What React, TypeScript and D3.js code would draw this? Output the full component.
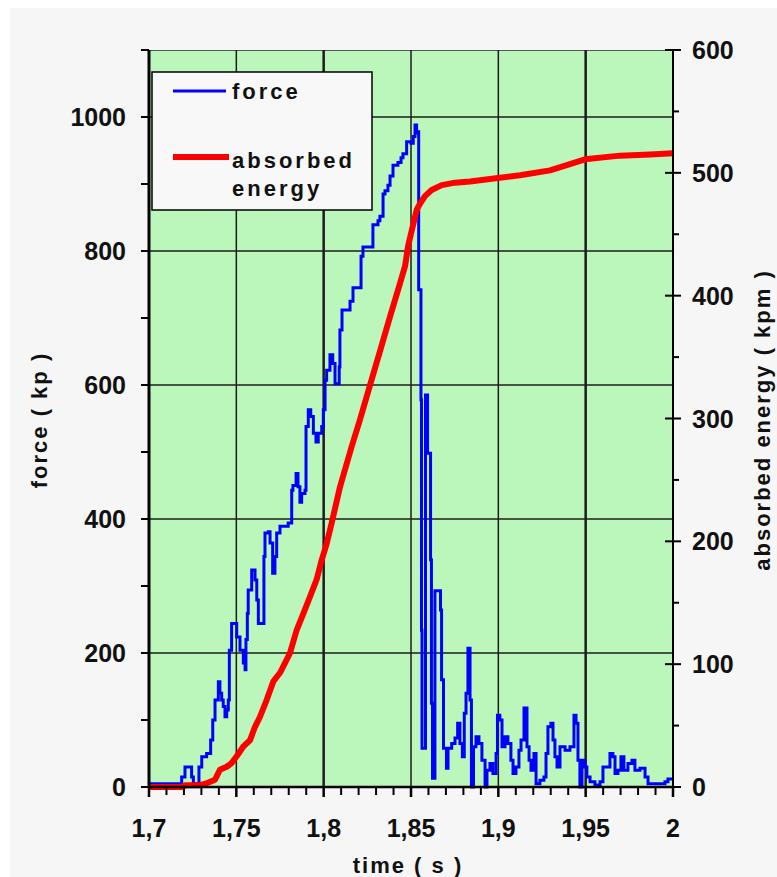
import React, { useEffect, useRef } from "react";
import * as d3 from "d3";

// force trace, [time (s), force (kp)]
const forceSeries: [number, number][] = [
  [1.7, 5], [1.7109, 5], [1.7187, 15], [1.7206, 30], [1.7235, 30], [1.7244, 15], [1.7254, 5],
  [1.7282, 5], [1.7286, 30], [1.7302, 45], [1.733, 50], [1.7349, 50], [1.7353, 70], [1.7365, 100],
  [1.7378, 130], [1.7397, 157], [1.7406, 140], [1.7416, 130], [1.7425, 120], [1.7435, 105],
  [1.7445, 115], [1.7454, 130], [1.746, 204], [1.7473, 244], [1.7492, 244], [1.7502, 224],
  [1.7521, 204], [1.754, 185], [1.755, 175], [1.7555, 220], [1.7563, 259], [1.7568, 294],
  [1.7588, 324], [1.7607, 309], [1.7617, 279], [1.7626, 244], [1.7654, 244], [1.7658, 344],
  [1.7664, 379], [1.7683, 381], [1.7693, 364], [1.7708, 319], [1.7721, 344], [1.7731, 379],
  [1.775, 389], [1.7788, 389], [1.7797, 394], [1.7817, 443], [1.7824, 450], [1.7842, 468],
  [1.7853, 448], [1.7864, 425], [1.7874, 438], [1.7893, 443], [1.7899, 538], [1.7912, 563],
  [1.7926, 553], [1.7941, 528], [1.7956, 515], [1.7969, 528], [1.7989, 538], [1.7998, 563],
  [1.8008, 607], [1.8017, 622], [1.8036, 645], [1.8052, 632], [1.8065, 602], [1.8078, 602],
  [1.8089, 627], [1.8093, 682], [1.8105, 712], [1.8139, 712], [1.8151, 725], [1.8168, 745],
  [1.8208, 745], [1.8214, 792], [1.8225, 806], [1.8254, 806], [1.8282, 839], [1.8311, 845],
  [1.8322, 852], [1.834, 885], [1.8351, 890], [1.8368, 898], [1.838, 912], [1.8397, 928],
  [1.8425, 932], [1.8443, 939], [1.8454, 945], [1.8475, 963], [1.85, 961], [1.8513, 971],
  [1.8523, 988], [1.8532, 976], [1.8542, 978], [1.8544, 742], [1.8552, 742], [1.8557, 578],
  [1.856, 234], [1.8563, 58], [1.8577, 58], [1.8583, 585], [1.8589, 585], [1.8595, 498],
  [1.8609, 498], [1.8612, 339], [1.8617, 125], [1.8623, 13], [1.8634, 13], [1.8637, 293],
  [1.8663, 293], [1.8669, 264], [1.8675, 160], [1.8686, 58], [1.8703, 28], [1.8712, 58],
  [1.8733, 65], [1.8752, 73], [1.8767, 95], [1.878, 65], [1.8794, 45], [1.8805, 110],
  [1.8815, 140], [1.8826, 207], [1.8838, 130], [1.8846, 0], [1.8852, 0], [1.8858, 60],
  [1.8872, 75], [1.8889, 65], [1.8906, 40], [1.8924, 0], [1.8935, 25], [1.8952, 35],
  [1.8969, 20], [1.8987, 50], [1.8995, 107], [1.9009, 100], [1.9021, 60], [1.9038, 75],
  [1.9055, 65], [1.9072, 40], [1.9084, 20], [1.9101, 30], [1.9118, 55], [1.913, 70],
  [1.9147, 118], [1.9164, 60], [1.9176, 40], [1.9187, 25], [1.9204, 50], [1.9216, 5],
  [1.9238, 10], [1.9261, 15], [1.9273, 50], [1.9284, 90], [1.9301, 95], [1.9313, 70],
  [1.9324, 45], [1.9336, 30], [1.9353, 60], [1.9382, 55], [1.941, 60], [1.9433, 107],
  [1.9445, 95], [1.9456, 40], [1.9467, 0], [1.9479, 40], [1.9496, 30], [1.9507, 15],
  [1.9525, 8], [1.9553, 3], [1.9582, 8], [1.9599, 30], [1.9622, 30], [1.9639, 50],
  [1.9656, 45], [1.9668, 20], [1.9685, 25], [1.9702, 45], [1.9719, 25], [1.9742, 35],
  [1.9765, 40], [1.9782, 25], [1.9811, 28], [1.984, 15], [1.9857, 5], [1.9897, 5],
  [1.9954, 8], [1.9971, 12], [2.0, 12],
];

// absorbed energy, [time (s), energy (kpm)]
const energySeries: [number, number][] = [
  [1.7, 0], [1.7195, 0], [1.7206, 1.5], [1.7292, 1.5], [1.733, 3], [1.7378, 6], [1.7406, 14],
  [1.7445, 16.5], [1.7473, 19.5], [1.7502, 25], [1.754, 33], [1.7578, 38], [1.7607, 49],
  [1.7635, 57], [1.7674, 71], [1.7712, 86], [1.775, 93], [1.7779, 101], [1.7807, 109],
  [1.7846, 128], [1.7883, 141], [1.7922, 155], [1.796, 169], [1.7989, 185], [1.8017, 198],
  [1.8046, 215], [1.8093, 244], [1.816, 277], [1.8208, 299], [1.8265, 327], [1.8323, 355],
  [1.838, 383], [1.8437, 410], [1.8466, 424], [1.8483, 440], [1.8504, 453], [1.8533, 470],
  [1.8552, 475], [1.858, 481], [1.8618, 486], [1.8676, 490], [1.8752, 492], [1.8838, 493],
  [1.9009, 496], [1.9124, 498], [1.9296, 502], [1.9496, 511], [1.9697, 514], [1.9868, 515],
  [2.0, 516],
];

const timeTicks = [1.7, 1.75, 1.8, 1.85, 1.9, 1.95, 2.0];
const timeTickLabels = ["1,7", "1,75", "1,8", "1,85", "1,9", "1,95", "2"];
const forceTicks = [0, 200, 400, 600, 800, 1000];
const energyTicks = [0, 100, 200, 300, 400, 500, 600];
const legendLabels = ["force", "absorbed", "energy"];

const FONT = "'Liberation Sans', Arial, Helvetica, sans-serif";

const App = () => {
  const ref = useRef<SVGSVGElement>(null);

  useEffect(() => {
    const svg = d3.select(ref.current);
    svg.selectAll("*").remove();

    const left = 149,
      right = 673,
      top = 50,
      bottom = 787;

    const x = d3.scaleLinear().domain([1.7, 2.0]).range([left, right]);
    const yForce = d3.scaleLinear().domain([0, 1100]).range([bottom, top]);
    const yEnergy = d3.scaleLinear().domain([0, 600]).range([bottom, top]);

    // page + panel background
    svg.append("rect").attr("width", 777).attr("height", 877).attr("fill", "#ffffff");
    svg.append("rect").attr("x", 10).attr("y", 8).attr("width", 767).attr("height", 869).attr("fill", "#f6f6f6");

    // plot area
    svg
      .append("rect")
      .attr("x", left)
      .attr("y", top)
      .attr("width", right - left)
      .attr("height", bottom - top)
      .attr("fill", "#bbf6bb");
    svg
      .append("line")
      .attr("x1", left)
      .attr("x2", right)
      .attr("y1", top + 0.5)
      .attr("y2", top + 0.5)
      .attr("stroke", "#555")
      .attr("stroke-width", 1);

    // grid
    svg
      .selectAll(".hgrid")
      .data(forceTicks.filter((d) => d > 0))
      .enter()
      .append("line")
      .attr("x1", left)
      .attr("x2", right)
      .attr("y1", (d) => yForce(d))
      .attr("y2", (d) => yForce(d))
      .attr("stroke", "#1c1c1c")
      .attr("stroke-width", 1.5);
    svg
      .selectAll(".vgrid")
      .data(timeTicks.slice(1, -1))
      .enter()
      .append("line")
      .attr("x1", (d) => x(d))
      .attr("x2", (d) => x(d))
      .attr("y1", top)
      .attr("y2", bottom)
      .attr("stroke", "#1c1c1c")
      .attr("stroke-width", (d) => (d === 1.8 || d === 1.95 ? 2.5 : 1.5));

    // series
    const forceLine = d3
      .line<[number, number]>()
      .curve(d3.curveStepAfter)
      .x((d) => x(d[0]))
      .y((d) => yForce(d[1]));
    const energyLine = d3
      .line<[number, number]>()
      .x((d) => x(d[0]))
      .y((d) => yEnergy(d[1]));

    svg
      .append("path")
      .datum(forceSeries)
      .attr("d", forceLine)
      .attr("fill", "none")
      .attr("stroke", "#0000ff")
      .attr("stroke-width", 3)
      .attr("stroke-linejoin", "miter");
    svg
      .append("path")
      .datum(energySeries)
      .attr("d", energyLine)
      .attr("fill", "none")
      .attr("stroke", "#ff0000")
      .attr("stroke-width", 6)
      .attr("stroke-linejoin", "round");

    // axis lines
    svg.append("line").attr("x1", left).attr("x2", left).attr("y1", top).attr("y2", bottom + 1)
      .attr("stroke", "#000").attr("stroke-width", 3);
    svg.append("line").attr("x1", right).attr("x2", right).attr("y1", top).attr("y2", bottom + 1)
      .attr("stroke", "#000").attr("stroke-width", 2);
    svg.append("line").attr("x1", left - 1).attr("x2", right + 1).attr("y1", bottom).attr("y2", bottom)
      .attr("stroke", "#000").attr("stroke-width", 2.5);

    // left ticks every 100
    svg
      .selectAll(".lt")
      .data(d3.range(0, 1101, 100))
      .enter()
      .append("line")
      .attr("x1", left - 8)
      .attr("x2", left)
      .attr("y1", (d) => yForce(d))
      .attr("y2", (d) => yForce(d))
      .attr("stroke", "#000")
      .attr("stroke-width", 2);
    svg
      .selectAll(".ll")
      .data(forceTicks)
      .enter()
      .append("text")
      .attr("x", 126)
      .attr("y", (d) => yForce(d) + 9)
      .attr("text-anchor", "end")
      .attr("font-family", FONT)
      .attr("font-weight", "bold")
      .attr("font-size", 25)
      .attr("fill", "#111")
      .text((d) => d);

    // right ticks: crossing majors, outside minors
    svg
      .selectAll(".rt")
      .data(d3.range(0, 601, 50))
      .enter()
      .append("line")
      .attr("x1", (d) => (d % 100 === 0 ? right - 8 : right))
      .attr("x2", (d) => (d % 100 === 0 ? right + 8 : right + 6))
      .attr("y1", (d) => yEnergy(d))
      .attr("y2", (d) => yEnergy(d))
      .attr("stroke", "#000")
      .attr("stroke-width", 2);
    svg
      .selectAll(".rl")
      .data(energyTicks)
      .enter()
      .append("text")
      .attr("x", 692)
      .attr("y", (d) => yEnergy(d) + 9)
      .attr("text-anchor", "start")
      .attr("font-family", FONT)
      .attr("font-weight", "bold")
      .attr("font-size", 25)
      .attr("fill", "#111")
      .text((d) => d);

    // bottom ticks every 0.01
    svg
      .selectAll(".bt")
      .data(d3.range(0, 31))
      .enter()
      .append("line")
      .attr("x1", (i) => x(1.7 + i * 0.01))
      .attr("x2", (i) => x(1.7 + i * 0.01))
      .attr("y1", bottom)
      .attr("y2", (i) => (i % 5 === 0 ? bottom + 10 : bottom + 8))
      .attr("stroke", "#000")
      .attr("stroke-width", (i) => (i % 5 === 0 ? 2.5 : 2));
    svg
      .selectAll(".bl")
      .data(timeTicks)
      .enter()
      .append("text")
      .attr("x", (d) => x(d))
      .attr("y", 837)
      .attr("text-anchor", "middle")
      .attr("font-family", FONT)
      .attr("font-weight", "bold")
      .attr("font-size", 25)
      .attr("fill", "#111")
      .text((d, i) => timeTickLabels[i]);

    // axis titles
    const title = (sel: any) =>
      sel
        .attr("font-family", FONT)
        .attr("font-weight", "bold")
        .attr("font-size", 22)
        .attr("letter-spacing", 2)
        .attr("fill", "#111")
        .attr("text-anchor", "middle");
    svg.append("text").call(title).attr("x", 408).attr("y", 873).text("time ( s )");
    svg.append("text").call(title).attr("transform", "translate(47,420) rotate(-90)").text("force ( kp )");
    svg
      .append("text")
      .call(title)
      .attr("transform", "translate(770,420) rotate(-90)")
      .text("absorbed energy ( kpm )");

    // legend
    const lg = svg.append("g");
    lg.append("rect")
      .attr("x", 152)
      .attr("y", 72)
      .attr("width", 220)
      .attr("height", 138)
      .attr("fill", "#f8f8f8")
      .attr("stroke", "#000")
      .attr("stroke-width", 1.5);
    lg.append("line").attr("x1", 173).attr("x2", 226).attr("y1", 91).attr("y2", 91)
      .attr("stroke", "#0000ff").attr("stroke-width", 3);
    lg.append("line").attr("x1", 173).attr("x2", 229).attr("y1", 157).attr("y2", 157)
      .attr("stroke", "#ff0000").attr("stroke-width", 6);
    lg.selectAll("text")
      .data(legendLabels)
      .enter()
      .append("text")
      .attr("x", 232)
      .attr("y", (d, i) => [99, 168, 196][i])
      .attr("font-family", FONT)
      .attr("font-weight", "bold")
      .attr("font-size", 22)
      .attr("letter-spacing", 3)
      .attr("fill", "#111")
      .text((d) => d);
  }, []);

  return (
    <div style={{ position: "absolute", left: 0, top: 0 }}>
      <svg ref={ref} width={777} height={877} style={{ display: "block" }}></svg>
    </div>
  );
};

export default App;
